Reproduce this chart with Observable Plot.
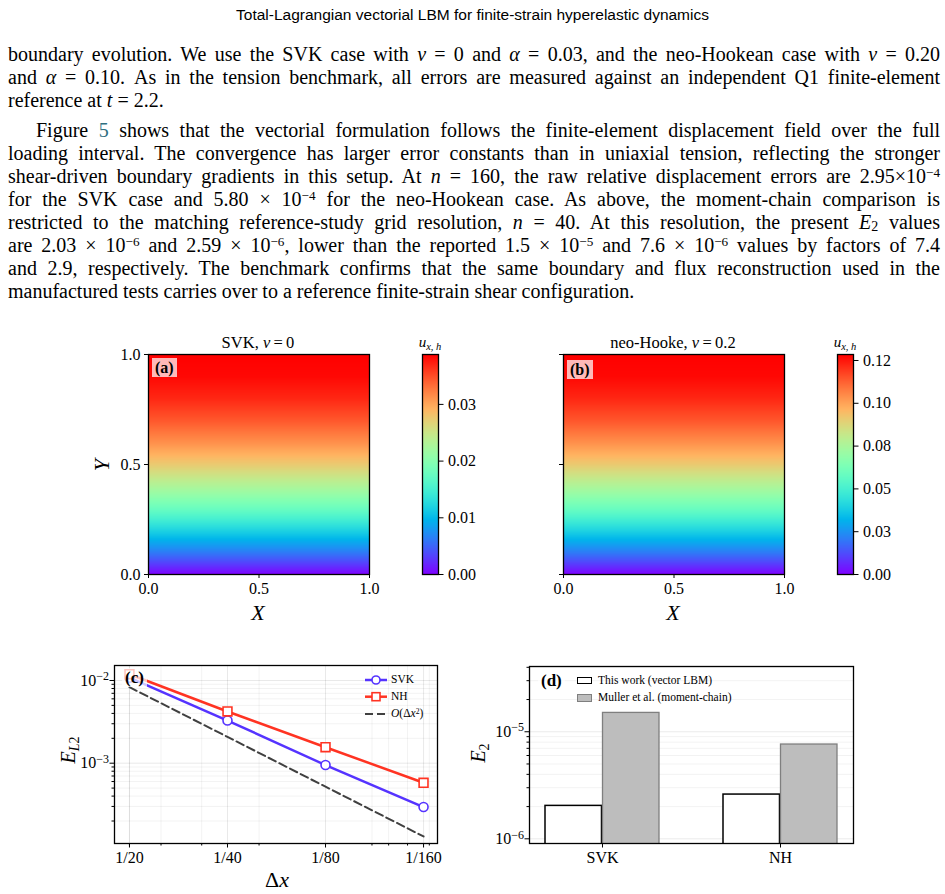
<!DOCTYPE html>
<html><head><meta charset="utf-8">
<script src="https://cdn.jsdelivr.net/npm/d3@7"></script>
<script src="https://cdn.jsdelivr.net/npm/@observablehq/plot@0.6"></script>
<style>
body{margin:0;background:#fff;}
#page{position:relative;width:945px;height:894px;overflow:hidden;font-family:"Liberation Serif",serif;color:#000;}
.hdr{position:absolute;left:0;width:945px;top:6px;text-align:center;font-family:"Liberation Sans",sans-serif;font-size:15.5px;line-height:18px;}
.ln{position:absolute;left:8px;width:932px;height:22px;line-height:22px;font-size:20px;white-space:nowrap;text-align:justify;text-align-last:justify;}
.ln.last{text-align-last:left;}
.ln.ind{left:36px;width:904px;}
sup{font-size:0.66em;vertical-align:0.45em;line-height:0;}
sub{font-size:0.7em;vertical-align:-0.3em;line-height:0;}
.ln sub{vertical-align:-0.15em;}
.ref{color:#2f6f80;}
.abs{position:absolute;white-space:nowrap;line-height:1;}
.c{transform:translate(-50%,-50%);}
.r{transform:translate(-50%,-50%) rotate(-90deg);}
.plot{position:absolute;}
.lab{position:absolute;font-weight:bold;font-size:16px;line-height:19px;background:rgba(255,255,255,0.72);padding:0 3px;}
.lg{position:absolute;font-size:11.5px;line-height:1;transform:translateY(-50%);white-space:nowrap;}
</style></head><body><div id="page">
<div class="hdr">Total-Lagrangian vectorial LBM for finite-strain hyperelastic dynamics</div>
<div class="ln" style="top:43px">boundary evolution. We use the SVK case with <i>ν</i> = 0 and <i>α</i> = 0.03, and the neo-Hookean case with <i>ν</i> = 0.20</div>
<div class="ln" style="top:66px">and <i>α</i> = 0.10. As in the tension benchmark, all errors are measured against an independent Q1 finite-element</div>
<div class="ln last" style="top:89px">reference at <i>t</i> = 2.2.</div>
<div class="ln ind" style="top:119px">Figure <span class="ref">5</span> shows that the vectorial formulation follows the finite-element displacement field over the full</div>
<div class="ln" style="top:142px">loading interval. The convergence has larger error constants than in uniaxial tension, reflecting the stronger</div>
<div class="ln" style="top:165px">shear-driven boundary gradients in this setup. At <i>n</i> = 160, the raw relative displacement errors are 2.95×10<sup>−4</sup></div>
<div class="ln" style="top:188px">for the SVK case and 5.80 × 10<sup>−4</sup> for the neo-Hookean case. As above, the moment-chain comparison is</div>
<div class="ln" style="top:211px">restricted to the matching reference-study grid resolution, <i>n</i> = 40. At this resolution, the present <i>E</i><sub>2</sub> values</div>
<div class="ln" style="top:234px">are 2.03 × 10<sup>−6</sup> and 2.59 × 10<sup>−6</sup>, lower than the reported 1.5 × 10<sup>−5</sup> and 7.6 × 10<sup>−6</sup> values by factors of 7.4</div>
<div class="ln" style="top:257px">and 2.9, respectively. The benchmark confirms that the same boundary and flux reconstruction used in the</div>
<div class="ln last" style="top:280px">manufactured tests carries over to a reference finite-strain shear configuration.</div>

<div id="pa" class="plot" style="left:60px;top:330px"></div>
<div id="ca" class="plot" style="left:400px;top:330px"></div>
<div id="pb" class="plot" style="left:475px;top:330px"></div>
<div id="cb" class="plot" style="left:815px;top:330px"></div>
<div id="pc" class="plot" style="left:40px;top:640px"></div>
<div id="pd" class="plot" style="left:470px;top:640px"></div>

<div class="abs c" style="left:258px;top:343px;font-size:16.5px">SVK, <i>ν</i>&#8201;=&#8201;0</div>
<div class="abs c" style="left:673px;top:343px;font-size:16.5px">neo-Hooke, <i>ν</i>&#8201;=&#8201;0.2</div>
<div class="abs c" style="left:430px;top:342px;font-size:15px"><i>u</i><sub><i>x</i>, <i>h</i></sub></div>
<div class="abs c" style="left:845px;top:342px;font-size:15px"><i>u</i><sub><i>x</i>, <i>h</i></sub></div>
<div class="abs r" style="left:102px;top:465px;font-size:22px"><i>Y</i></div>
<div class="abs c" style="left:258px;top:613px;font-size:22px"><i>X</i></div>
<div class="abs c" style="left:673px;top:613px;font-size:22px"><i>X</i></div>
<div class="lab" style="left:152px;top:358px">(a)</div>
<div class="lab" style="left:567px;top:360px">(b)</div>

<div class="abs c" style="left:277px;top:880px;font-size:22px">Δ<i>x</i></div>
<div class="abs r" style="left:68px;top:750px;font-size:20px"><i>E</i><sub><i>L</i>2</sub></div>
<div class="lab" style="left:122px;top:668px;font-size:17px">(c)</div>
<div class="abs" style="left:363px;top:672px"><svg width="28" height="50">
<line x1="2" x2="24" y1="8" y2="8" stroke="#5533ff" stroke-width="2.5"/><circle cx="13" cy="8" r="4" fill="#fff" stroke="#5533ff" stroke-width="1.6"/>
<line x1="2" x2="24" y1="24.7" y2="24.7" stroke="#ff3322" stroke-width="2.5"/><rect x="9" y="20.7" width="8" height="8" fill="#fff" stroke="#ff3322" stroke-width="1.6"/>
<line x1="2" x2="24" y1="42" y2="42" stroke="#404040" stroke-width="2" stroke-dasharray="8,4"/></svg></div>
<div class="lg" style="left:391px;top:680px">SVK</div>
<div class="lg" style="left:391px;top:697px">NH</div>
<div class="lg" style="left:391px;top:714px"><i>O</i>(Δ<i>x</i><sup>2</sup>)</div>

<div class="abs r" style="left:478px;top:753px;font-size:20px"><i>E</i><sub>2</sub></div>
<div class="lab" style="left:538px;top:671px;font-size:17px">(d)</div>
<div class="abs" style="left:577px;top:677px;width:13px;height:5px;border:1.5px solid #000;background:#fff"></div>
<div class="abs" style="left:577px;top:694px;width:13px;height:6px;border:1.2px solid #7f7f7f;background:#bdbdbd"></div>
<div class="lg" style="left:598px;top:681px">This work (vector LBM)</div>
<div class="lg" style="left:598px;top:698px">Muller et al. (moment-chain)</div>
</div>
<script>
// ---------- data ----------
const Ylev = [0, 0.1, 0.2, 0.3, 0.4, 0.5, 0.6, 0.7, 0.8, 0.9, 1.0];
const uxSVK = [0, 0.0062, 0.0120, 0.0178, 0.0229, 0.0275, 0.0314, 0.0345, 0.0369, 0.0384, 0.0388];
const uxNH = [0, 0.0206, 0.0399, 0.0590, 0.0758, 0.0912, 0.1041, 0.1145, 0.1223, 0.1273, 0.1285];
const Xcols = [0, 1];
const maxSVK = 0.0388, maxNH = 0.1285;
const axisTicks = [0, 0.5, 1];
const cbTicksSVK = [0, 0.01, 0.02, 0.03];
const cbLabelsSVK = ["0.00", "0.01", "0.02", "0.03"];
const cbTicksNH = [0, 0.025, 0.05, 0.075, 0.1, 0.125];
const cbLabelsNH = ["0.00", "0.03", "0.05", "0.08", "0.10", "0.12"];

const dx = [1/20, 1/40, 1/80, 1/160];
const dxLabels = ["1/20", "1/40", "1/80", "1/160"];
const eSVK = [1.08e-2, 3.28e-3, 9.5e-4, 2.95e-4];
const eNH = [1.19e-2, 4.22e-3, 1.56e-3, 5.80e-4];
const eRef = [8.3e-3, 2.08e-3, 5.2e-4, 1.3e-4];
const xMinorC = [0.05, 0.04, 0.03, 0.02, 0.009, 0.008, 0.007, 0.006];
const yMajorC = [1e-2, 1e-3];
const yMinorC = [2e-4, 3e-4, 4e-4, 5e-4, 6e-4, 7e-4, 8e-4, 9e-4, 2e-3, 3e-3, 4e-3, 5e-3, 6e-3, 7e-3, 8e-3, 9e-3];

const cases = ["SVK", "NH"];
const e2This = [2.03e-6, 2.59e-6];
const e2Muller = [1.5e-5, 7.6e-6];
const yMajorD = [1e-6, 1e-5];
const yMinorD = [2e-6, 3e-6, 4e-6, 5e-6, 6e-6, 7e-6, 8e-6, 9e-6, 2e-5, 3e-5, 4e-5];

// ---------- fit justified lines ----------
document.querySelectorAll(".ln").forEach(el => {
  let ws = 0;
  while (el.scrollWidth > el.clientWidth + 0.5 && ws > -8) { ws -= 0.25; el.style.wordSpacing = ws + "px"; }
});

// ---------- helpers ----------
function rainbow(t) {
  const r = Math.min(1, Math.abs(2 * t - 0.5)), g = Math.sin(Math.PI * t), b = Math.max(0, Math.cos(Math.PI * t / 2));
  return `rgb(${Math.round(255 * r)},${Math.round(255 * g)},${Math.round(255 * b)})`;
}
const field = (u) => Ylev.flatMap((y, i) => Xcols.map(x => ({X: x, Y: y, u: u[i]})));
const pow10 = d => "10^" + Math.round(Math.log10(d));
const lookup = (ticks, labels) => d => labels[ticks.indexOf(d)];
const style = {fontFamily: "Liberation Serif", fontSize: "16px", background: "transparent", overflow: "visible"};
function sup(svg) {
  svg.querySelectorAll("text").forEach(t => {
    const m = t.textContent.match(/^10\^(-?\d+)$/);
    if (m) {
      t.textContent = "10";
      const ts = document.createElementNS("http://www.w3.org/2000/svg", "tspan");
      ts.setAttribute("dy", "-0.45em");
      ts.setAttribute("font-size", "0.75em");
      ts.textContent = m[1].replace("-", "−");
      t.appendChild(ts);
    }
  });
  return svg;
}

function heat(u, max, yLabels) {
  return Plot.plot({
    width: 330, height: 300, marginLeft: 88, marginRight: 21, marginTop: 24, marginBottom: 56, style,
    x: {domain: [0, 1]}, y: {domain: [0, 1]},
    color: {type: "linear", domain: [0, max], interpolate: rainbow},
    marks: [
      Plot.raster(field(u), {x: "X", y: "Y", fill: "u", x1: 0, x2: 1, y1: 0, y2: 1, interpolate: "barycentric"}),
      Plot.frame({stroke: "#000", strokeWidth: 1.3}),
      Plot.axisX({ticks: axisTicks, tickFormat: d3.format(".1f"), tickSize: 4, tickPadding: 4, label: null}),
      Plot.axisY({ticks: axisTicks, tickFormat: yLabels ? d3.format(".1f") : () => "", tickSize: 4, tickPadding: 4, label: null})
    ]
  });
}
function cbar(max, ticks, labels) {
  return Plot.plot({
    width: 80, height: 300, marginLeft: 22, marginRight: 42, marginTop: 24, marginBottom: 56, style,
    x: {domain: [0, 1], axis: null}, y: {domain: [0, max]},
    color: {type: "linear", domain: [0, max], interpolate: rainbow},
    marks: [
      Plot.raster({fill: (x, y) => y, x1: 0, x2: 1, y1: 0, y2: max}),
      Plot.frame({stroke: "#000", strokeWidth: 1.3}),
      Plot.axisY({anchor: "right", ticks, tickFormat: lookup(ticks, labels), tickSize: 4.5, tickPadding: 5, label: null})
    ]
  });
}
document.getElementById("pa").appendChild(heat(uxSVK, maxSVK, true));
document.getElementById("ca").appendChild(cbar(maxSVK, cbTicksSVK, cbLabelsSVK));
document.getElementById("pb").appendChild(heat(uxNH, maxNH, false));
document.getElementById("cb").appendChild(cbar(maxNH, cbTicksNH, cbLabelsNH));

// ---------- (c) convergence ----------
const rowsC = (e) => dx.map((d, i) => ({dx: d, e: e[i]}));
const pc = Plot.plot({
  width: 420, height: 254, marginLeft: 74, marginRight: 23, marginTop: 25, marginBottom: 51, style,
  x: {type: "log", domain: [0.05558, 0.005663]},
  y: {type: "log", domain: [1.069e-4, 1.518e-2]},
  marks: [
    Plot.gridX(xMinorC, {stroke: "#000", strokeOpacity: 0.05}),
    Plot.gridY(yMinorC, {stroke: "#000", strokeOpacity: 0.05}),
    Plot.gridX(dx, {stroke: "#000", strokeOpacity: 0.09}),
    Plot.gridY(yMajorC, {stroke: "#000", strokeOpacity: 0.09}),
    Plot.line(rowsC(eRef), {x: "dx", y: "e", stroke: "#404040", strokeWidth: 2, strokeDasharray: "8,4"}),
    Plot.line(rowsC(eSVK), {x: "dx", y: "e", stroke: "#5533ff", strokeWidth: 2.5}),
    Plot.dot(rowsC(eSVK), {x: "dx", y: "e", r: 4.5, fill: "#fff", stroke: "#5533ff", strokeWidth: 1.6}),
    Plot.line(rowsC(eNH), {x: "dx", y: "e", stroke: "#ff3322", strokeWidth: 2.5}),
    Plot.dot(rowsC(eNH), {x: "dx", y: "e", r: 5, symbol: "square", fill: "#fff", stroke: "#ff3322", strokeWidth: 1.6}),
    Plot.frame({stroke: "#000", strokeWidth: 1.3}),
    Plot.axisX({ticks: dx, tickFormat: lookup(dx, dxLabels), tickSize: 4.5, tickPadding: 4, label: null}),
    Plot.axisX({ticks: xMinorC, tickFormat: () => "", tickSize: 2.5, label: null}),
    Plot.axisY({ticks: yMajorC, tickFormat: pow10, tickSize: 4.5, tickPadding: 1, label: null}),
    Plot.axisY({ticks: yMinorC, tickFormat: () => "", tickSize: 2.5, label: null})
  ]
});
document.getElementById("pc").appendChild(sup(pc));

// ---------- (d) bars ----------
const rowsD = (v) => cases.map((c, i) => ({cat: c, e2: v[i]}));
const pd = Plot.plot({
  width: 420, height: 254, marginLeft: 59, marginRight: 37, marginTop: 26, marginBottom: 51, style,
  x: {type: "band", domain: cases, paddingInner: 0.3575, paddingOuter: 0.084},
  y: {type: "log", domain: [9.04e-7, 4.07e-5]},
  marks: [
    Plot.gridY(yMinorD, {stroke: "#000", strokeOpacity: 0.05}),
    Plot.gridY(yMajorD, {stroke: "#000", strokeOpacity: 0.08}),
    Plot.barY(rowsD(e2This), {x: "cat", y1: 1e-7, y2: "e2", fill: "#fff", stroke: "#000", strokeWidth: 1.5, insetRight: 57.5, clip: true}),
    Plot.barY(rowsD(e2Muller), {x: "cat", y1: 1e-7, y2: "e2", fill: "#bdbdbd", stroke: "#7f7f7f", strokeWidth: 1.3, insetLeft: 57.5, clip: true}),
    Plot.frame({stroke: "#000", strokeWidth: 1.3}),
    Plot.axisX({tickSize: 4.5, tickPadding: 4, label: null}),
    Plot.axisY({ticks: yMajorD, tickFormat: pow10, tickSize: 4.5, tickPadding: 1, label: null}),
    Plot.axisY({ticks: yMinorD, tickFormat: () => "", tickSize: 2.5, label: null})
  ]
});
document.getElementById("pd").appendChild(sup(pd));
</script>
</body></html>
